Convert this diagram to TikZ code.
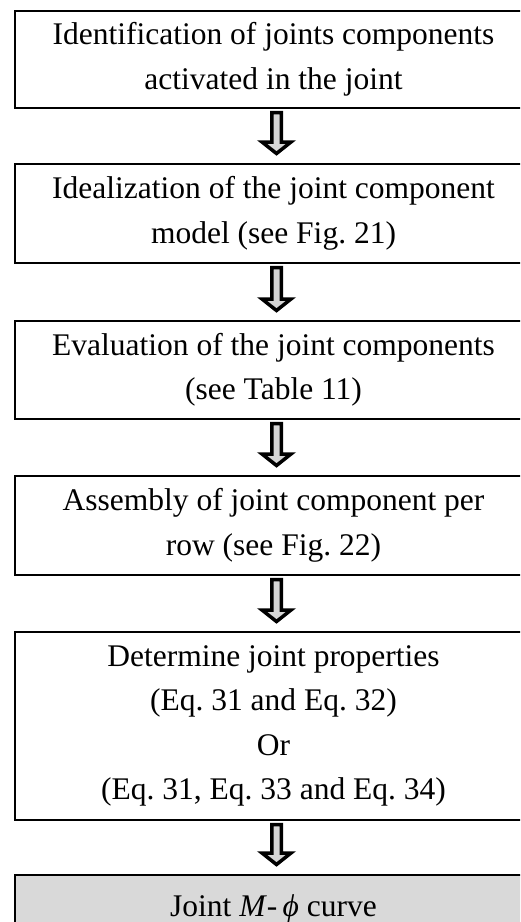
\documentclass[tikz,border=0pt]{standalone}
\usepackage{fontspec}
\setmainfont{Liberation Serif}
\usetikzlibrary{calc}
\definecolor{panelgray}{RGB}{217,217,217}
\definecolor{arrowgray}{RGB}{214,214,214}
\frenchspacing
\begin{document}
\begin{tikzpicture}[x=1pt,y=-1pt,
  stepbox/.style={draw=black, line width=2pt, fill=white, minimum width=517pt,
    inner sep=0pt, align=center, anchor=north west,
    font=\fontsize{31.5}{44.5}\selectfont},
  resultbox/.style={stepbox, fill=panelgray},
  fatarrow/.style={draw=black, line width=3.5pt, fill=arrowgray, line join=miter}]
\useasboundingbox (0,0) rectangle (520,922);
\clip (0,0) rectangle (520,922);

% process steps
\node[stepbox, minimum height=97pt] (b1) at (14,10)
  {Identification of joints components\\activated in the joint};
\node[stepbox, minimum height=99pt] (b2) at (14,163)
  {Idealization of the joint component\\model (see Fig. 21)};
\node[stepbox, minimum height=98pt] (b3) at (14,320)
  {Evaluation of the joint components\\(see Table 11)};
\node[stepbox, minimum height=99pt] (b4) at (14,475)
  {Assembly of joint component per\\row (see Fig. 22)};
\node[stepbox, minimum height=188pt] (b5) at (14,631)
  {Determine joint properties\\(Eq. 31 and Eq. 32)\\Or\\(Eq. 31, Eq. 33 and Eq. 34)};
\node[resultbox, minimum height=68pt] (b6) at (14,874)
  {Joint \textit{M}-\,\textit{ϕ} curve};

% hollow block arrows between consecutive steps
\foreach \a/\b in {b1/b2, b2/b3, b3/b4, b4/b5, b5/b6} {
  \draw[fatarrow] let \p1=(\a.south), \p2=(\b.north) in
    (271.75pt,{\y1-3.5pt}) -- (281.25pt,{\y1-3.5pt}) -- (281.25pt,{\y2+21pt})
    -- (291pt,{\y2+21pt}) -- (276.5pt,{\y2+9.5pt}) -- (262pt,{\y2+21pt})
    -- (271.75pt,{\y2+21pt}) -- cycle;
}
\end{tikzpicture}
\end{document}
